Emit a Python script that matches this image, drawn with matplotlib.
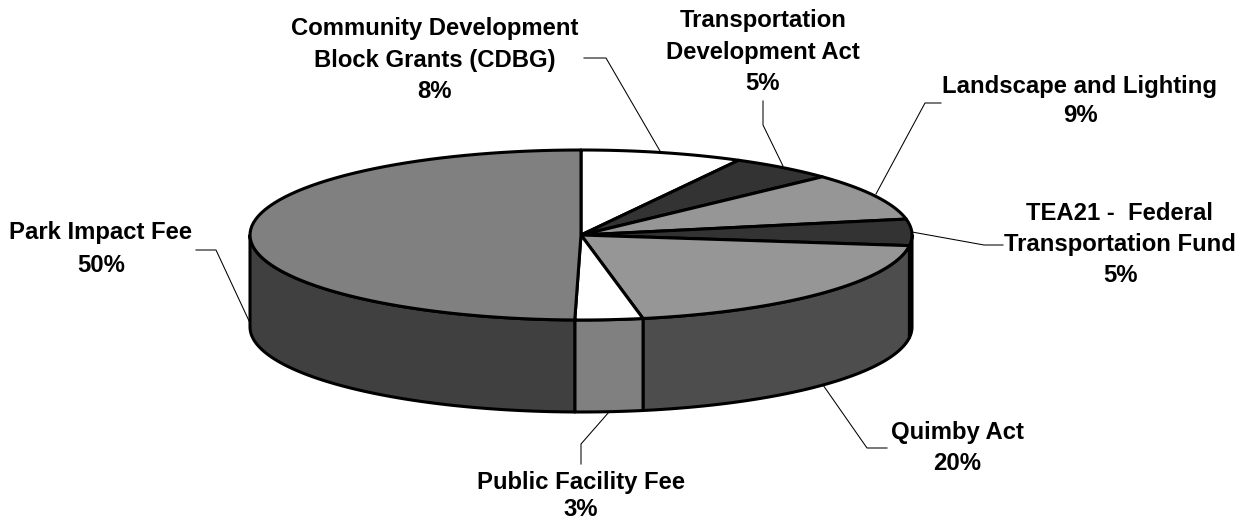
import matplotlib
matplotlib.use('Agg')
import matplotlib.pyplot as plt
import numpy as np

plt.rcParams['font.family'] = ['Liberation Sans', 'DejaVu Sans']

# slices clockwise from 12 o'clock
names = ['Community Development\nBlock Grants (CDBG)', 'Transportation\nDevelopment Act',
         'Landscape and Lighting', 'TEA21 -  Federal\nTransportation Fund',
         'Quimby Act', 'Public Facility Fee', 'Park Impact Fee']
shares = [7.9, 5.1, 9.0, 5.0, 20.0, 3.3, 49.7]
top_colors = ['#ffffff', '#333333', '#969696', '#333333', '#969696', '#ffffff', '#808080']
side_colors = ['#808080', '#1a1a1a', '#4b4b4b', '#1a1a1a', '#4d4d4d', '#808080', '#404040']

# label centre (x, y of first line), line step and leader path, in image pixels
label_pos = [(435, 29), (763, 21), (1080, 86), (1120, 213), (957, 432), (581, 482), (101, 233)]
line_steps = [31, 31, 30, 31, 32, 28, 32]
leaders = [[(660, 151), (606, 58), (584, 58)],
           [(783, 166), (763, 125), (763, 101)],
           [(876, 194), (925, 103), (941, 103)],
           [(912, 232), (984, 245), (1003, 245)],
           [(823, 385), (867, 448), (887, 448)],
           [(609, 412), (581, 444), (581, 464)],
           [(250, 323), (216, 250), (196, 250)]]

cx, cy, rx, ry, depth = 581, 235, 331, 85, 92


def rim(t, dy=0):
    t = np.radians(t)
    return cx + rx * np.sin(t), cy - ry * np.cos(t) + dy


fig = plt.figure(figsize=(12.41, 5.24), dpi=100)
ax = fig.add_axes([0, 0, 1, 1])
ax.set_xlim(0, 1241)
ax.set_ylim(524, 0)
ax.axis('off')

edges = np.cumsum([0] + shares) * 3.6

# side wall: only the front half of the rim shows
for i in range(len(shares)):
    a = max(edges[i], 90)
    b = min(edges[i + 1], 270)
    if b <= a:
        continue
    t = np.linspace(a, b, 80)
    x, y = rim(t)
    x2, y2 = rim(t[::-1], depth)
    ax.fill(np.r_[x, x2], np.r_[y, y2], facecolor=side_colors[i], edgecolor='black',
            linewidth=2.2, joinstyle='round', zorder=2)

# top face
for i in range(len(shares)):
    t = np.linspace(edges[i], edges[i + 1], 80)
    x, y = rim(t)
    ax.fill(np.r_[cx, x], np.r_[cy, y], facecolor=top_colors[i], edgecolor='black',
            linewidth=2.2, joinstyle='round', zorder=3)

for path in leaders:
    ax.plot([p[0] for p in path], [p[1] for p in path], color='black', linewidth=0.75, zorder=1)

for name, share, (lx, ly), step in zip(names, shares, label_pos, line_steps):
    lines = name.split('\n') + ['%d%%' % round(share)]
    for k, line in enumerate(lines):
        ax.text(lx, ly + k * step, line, ha='center', va='center',
                fontsize=17.2, fontweight='bold', color='black')

fig.savefig('out.png', dpi=100, facecolor='white')
